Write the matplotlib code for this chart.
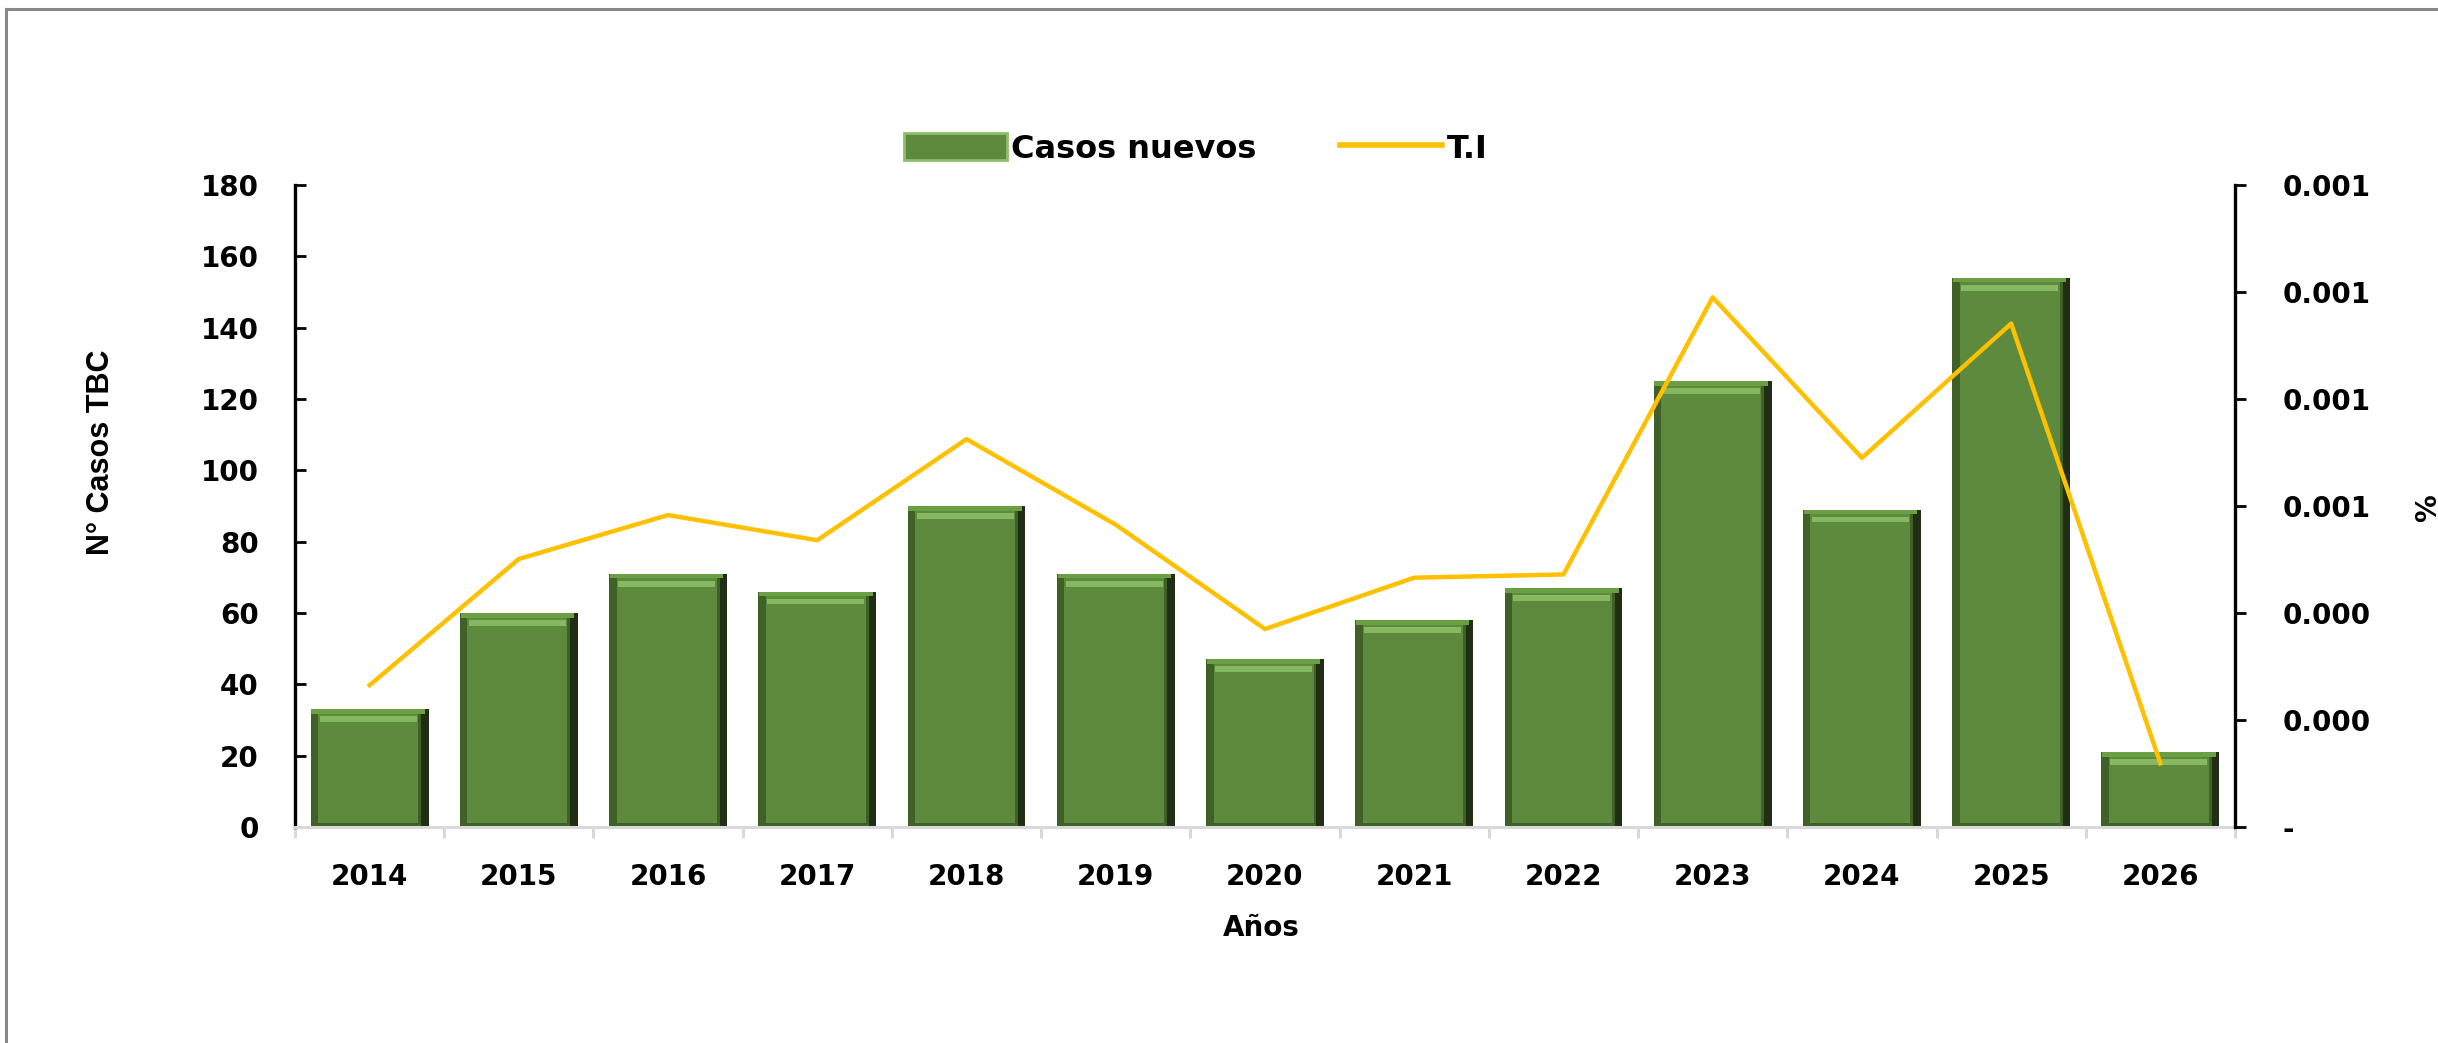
import matplotlib
matplotlib.use("Agg")
import numpy as np
import matplotlib.pyplot as plt
from matplotlib.lines import Line2D
from matplotlib.patches import Patch

years = ["2014", "2015", "2016", "2017", "2018", "2019", "2020",
         "2021", "2022", "2023", "2024", "2025", "2026"]
casos_nuevos = [33, 60, 71, 66, 90, 71, 47, 58, 67, 125, 89, 154, 21]
tasa_ti = [0.000265, 0.000501, 0.000583, 0.000536, 0.000725, 0.000565, 0.000370,
           0.000466, 0.000472, 0.000990, 0.000690, 0.000941, 0.000119]
left_ticks = [0, 20, 40, 60, 80, 100, 120, 140, 160, 180]
right_ticks = [0, 0.0002, 0.0004, 0.0006, 0.0008, 0.0010, 0.0012]
right_tick_labels = ["-", "0.000", "0.000", "0.001", "0.001", "0.001", "0.001"]

W, H = 2438, 1043
fig = plt.figure(figsize=(W / 100, H / 100), dpi=100)
ax = fig.add_axes([295 / W, 1 - 827 / H, (2235 - 295) / W, (827 - 185) / H])

x = np.arange(len(years))
vals = np.array(casos_nuevos, dtype=float)
bw = 0.79

# bevelled bars: dark base, darker side bands, main face, light top bands
ax.bar(x, vals, bw, color="#1f2e15", zorder=2)
ax.bar(x - 0.025, vals, bw - 0.05, color="#3f6027", zorder=2)
ax.bar(x - 0.01, vals - 1.6, bw - 0.12, bottom=1.2, color="#5d8a3c", zorder=2)
ax.bar(x - 0.01, 1.3, bw - 0.03, bottom=vals - 1.3, color="#6aa043", zorder=3)
ax.bar(x - 0.01, 1.6, bw - 0.14, bottom=vals - 3.6, color="#86b862", zorder=3)

ax.set_xlim(-0.5, len(years) - 0.5)
ax.set_ylim(0, 180)
ax.set_yticks(left_ticks)
ax.set_xticks(x)
ax.set_xticklabels(years)
ax.set_xticks(np.arange(len(years) + 1) - 0.5, minor=True)

for s in ["top", "right"]:
    ax.spines[s].set_visible(False)
ax.spines["left"].set_color("black")
ax.spines["left"].set_linewidth(2.4)
ax.spines["bottom"].set_color("#d9d9d9")
ax.spines["bottom"].set_linewidth(2.2)

font = {"family": "DejaVu Sans", "weight": "bold", "size": 20}
ax.tick_params(axis="y", direction="in", length=8, width=2, color="black", pad=26)
ax.tick_params(axis="x", which="major", length=0, pad=26)
ax.tick_params(axis="x", which="minor", direction="out", length=8, width=2.2, color="#d9d9d9")
for lab in ax.get_xticklabels() + ax.get_yticklabels():
    lab.set_fontproperties(font)

ax2 = ax.twinx()
ax2.plot(x, tasa_ti, color="#ffc000", lw=3.2, zorder=5)
ax2.set_ylim(0, 0.0012)
ax2.set_yticks(right_ticks)
ax2.set_yticklabels(right_tick_labels)
for s in ["top", "left", "bottom"]:
    ax2.spines[s].set_visible(False)
ax2.spines["right"].set_color("black")
ax2.spines["right"].set_linewidth(2.4)
ax2.tick_params(axis="y", direction="out", length=8, width=2, color="black", pad=26)
for lab in ax2.get_yticklabels():
    lab.set_fontproperties(font)

# axis titles
fig.text(101 / W, 1 - 452 / H, "N° Casos TBC", rotation=90, ha="center", va="center",
         family="Liberation Sans", weight="bold", size=22)
fig.text(1261 / W, 1 - 928 / H, "Años", ha="center", va="center", **font)
fig.text(2428 / W, 1 - 508 / H, "%", rotation=90, ha="center", va="center", **font)

# legend
legend_font = dict(font, size=23)
handles = [Patch(facecolor="#5d8a3c", edgecolor="#8dbf6a", lw=2),
           Line2D([0], [0], color="#ffc000", lw=4)]
fig.legend(handles, ["Casos nuevos", "T.I"], loc="center", bbox_to_anchor=(1196 / W, 1 - 149 / H),
           ncol=2, frameon=False, prop=legend_font, handlelength=3.2, handleheight=0.9,
           handletextpad=0.15, columnspacing=2.6)

# chart area border (top and left visible)
fig.add_artist(Line2D([6 / W, 1.0], [1 - 9 / H, 1 - 9 / H], color="#888888", lw=2.2))
fig.add_artist(Line2D([6 / W, 6 / W], [0, 1 - 9 / H], color="#888888", lw=2.2))

fig.savefig("out.png", dpi=100)
